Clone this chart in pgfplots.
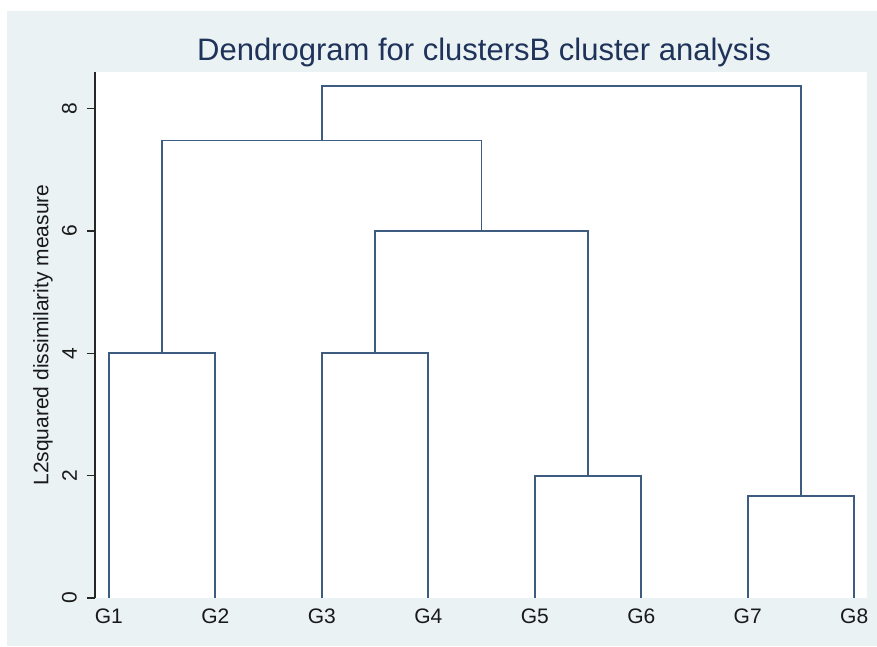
\documentclass[border=0pt]{standalone}
\usepackage{pgfplots}
\pgfplotsset{compat=1.18}
\usepackage{fontspec}
\setmainfont{Liberation Sans}
\definecolor{stbg}{HTML}{EAF2F3}
\definecolor{sttitle}{RGB}{30,50,90}
\definecolor{stline}{RGB}{62,92,128}
\tikzset{dend/.style={draw=stline, line width=1.9pt, solid, mark=none, line join=miter}}
\begin{document}
\begin{tikzpicture}
\useasboundingbox (-95pt,-48pt) rectangle (782pt,598pt);
\fill[stbg] (-88pt,-48pt) rectangle (782pt,587pt);
\begin{axis}[
  at={(0pt,0pt)}, anchor=south west,
  scale only axis, width=772pt, height=526pt,
  xmin=0.87, xmax=8.12, ymin=0, ymax=8.6,
  axis background/.style={fill=white},
  axis y line*=left, axis x line*=bottom,
  x axis line style={draw=none},
  y axis line style={line width=1.3pt, color=black!85},
  xtick={1,2,3,4,5,6,7,8},
  xticklabels={G1,G2,G3,G4,G5,G6,G7,G8},
  xtick style={draw=none},
  ytick={0,2,4,6,8},
  ytick style={line width=1.3pt, color=black!85},
  tick align=outside, major tick length=8pt,
  /pgf/number format/assume math mode=true,
  tick label style={font=\fontsize{21}{24}\selectfont, color=black!90},
  xticklabel style={anchor=north, inner sep=0pt, yshift=-3pt},
  yticklabel style={xshift=-10pt, rotate=90, anchor=south, inner sep=0pt},
  ylabel={L2squared dissimilarity measure},
  every axis y label/.style={at={(axis description cs:0,0.5)}, xshift=-52pt, rotate=90, anchor=center, font=\fontsize{21}{24}\selectfont, color=black!90},
  title={Dendrogram for clustersB cluster analysis},
  every axis title/.style={at={(axis description cs:0.5,1)}, anchor=base, yshift=12pt, xshift=3pt, font=\fontsize{31}{34}\selectfont, color=sttitle},
  clip=false,
]
\addplot[dend] coordinates {(1,0) (1,4) (2,4) (2,0)};
\addplot[dend] coordinates {(3,0) (3,4) (4,4) (4,0)};
\addplot[dend] coordinates {(5,0) (5,2) (6,2) (6,0)};
\addplot[dend] coordinates {(7,0) (7,1.67) (8,1.67) (8,0)};
\addplot[dend] coordinates {(3.5,4) (3.5,6) (5.5,6) (5.5,2)};
\addplot[dend] coordinates {(1.5,4) (1.5,7.48) (4.5,7.48) (4.5,6)};
\addplot[dend] coordinates {(3,7.48) (3,8.37) (7.5,8.37) (7.5,1.67)};
\end{axis}
\end{tikzpicture}
\end{document}
